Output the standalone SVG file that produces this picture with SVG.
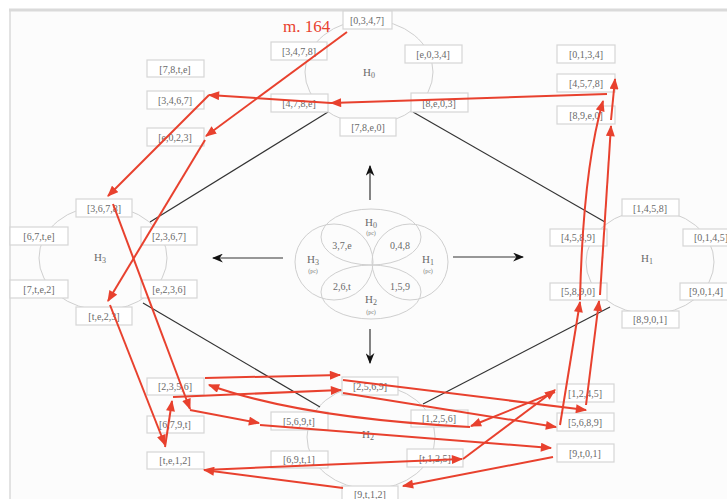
<svg xmlns="http://www.w3.org/2000/svg" width="727" height="499" viewBox="0 0 727 499">
<defs>
<style>
.bx rect{fill:#fff;stroke:#d6d6d6;stroke-width:1.2}
.bx text,.t{font-family:"Liberation Serif",serif;font-size:10px;fill:#6a6a6a;text-anchor:middle;dominant-baseline:central}
.hl{font-family:"Liberation Serif",serif;font-size:11px;fill:#6a6a6a;text-anchor:middle;dominant-baseline:central}
.pc{font-family:"Liberation Serif",serif;font-size:6px;fill:#777;text-anchor:middle;dominant-baseline:central}
.ring{fill:none;stroke:#cfcfcf;stroke-width:1}
.blk{fill:none;stroke:#333;stroke-width:1.2}
.red path{fill:none;stroke:#e8412e;stroke-width:2;marker-end:url(#ar)}
</style>
<marker id="ar" viewBox="0 0 10 8" refX="9" refY="4" markerWidth="12" markerHeight="9" orient="auto" markerUnits="userSpaceOnUse"><path d="M0,0 L10,4 L0,8 z" fill="#e8412e"/></marker>
<marker id="ab" viewBox="0 0 10 8" refX="9" refY="4" markerWidth="11" markerHeight="9" orient="auto" markerUnits="userSpaceOnUse"><path d="M0,0 L10,4 L0,8 L3,4 z" fill="#111"/></marker>
</defs>
<rect x="0" y="0" width="727" height="499" fill="#fff"/>
<rect x="10" y="10" width="717" height="489" fill="#fcfcfc"/>
<line x1="9" y1="10" x2="727" y2="10" stroke="#dadada" stroke-width="3"/>
<line x1="10" y1="10" x2="10" y2="499" stroke="#dadada" stroke-width="1.5"/>

<g id="rings">
<ellipse class="ring" cx="369" cy="72" rx="64" ry="52"/>
<ellipse class="ring" cx="103" cy="258" rx="64" ry="52"/>
<ellipse class="ring" cx="650" cy="262" rx="64" ry="52"/>
<ellipse class="ring" cx="371" cy="437" rx="64" ry="52"/>
</g>

<g id="connectors">
<g id="black">
<line class="blk" x1="328" y1="112" x2="150" y2="222"/>
<line class="blk" x1="413" y1="112" x2="605" y2="222"/>
<line class="blk" x1="143" y1="303" x2="320" y2="407"/>
<line class="blk" x1="610" y1="307" x2="423" y2="404"/>
<line class="blk" x1="370" y1="200" x2="370" y2="166" marker-end="url(#ab)"/>
<line class="blk" x1="283" y1="258" x2="213" y2="258" marker-end="url(#ab)"/>
<line class="blk" x1="453" y1="257" x2="523" y2="257" marker-end="url(#ab)"/>
<line class="blk" x1="370" y1="329" x2="370" y2="363" marker-end="url(#ab)"/>
</g>
</g>

<g id="center">
<ellipse class="ring" cx="371" cy="237" rx="50" ry="28"/>
<ellipse class="ring" cx="371" cy="292" rx="50" ry="27"/>
<ellipse class="ring" cx="334" cy="262" rx="39" ry="38"/>
<ellipse class="ring" cx="410" cy="262" rx="38" ry="38"/>
<text class="hl" x="371" y="222">H<tspan font-size="8" dy="3">0</tspan></text>
<text class="pc" x="371" y="233">(pc)</text>
<text class="hl" x="313" y="259">H<tspan font-size="8" dy="3">3</tspan></text>
<text class="pc" x="313" y="271">(pc)</text>
<text class="hl" x="428" y="259">H<tspan font-size="8" dy="3">1</tspan></text>
<text class="pc" x="428" y="271">(pc)</text>
<text class="hl" x="371" y="299">H<tspan font-size="8" dy="3">2</tspan></text>
<text class="pc" x="371" y="312">(pc)</text>
<text class="t" x="342" y="245">3,7,e</text>
<text class="t" x="400" y="245">0,4,8</text>
<text class="t" x="342" y="286">2,6,t</text>
<text class="t" x="400" y="286">1,5,9</text>
</g>

<text class="hl" x="369" y="72">H<tspan font-size="8" dy="3">0</tspan></text>
<text class="hl" x="100" y="257">H<tspan font-size="8" dy="3">3</tspan></text>
<text class="hl" x="647" y="258">H<tspan font-size="8" dy="3">1</tspan></text>
<text class="hl" x="368" y="434">H<tspan font-size="8" dy="3">2</tspan></text>

<g id="n0347" class="bx"><rect x="343" y="11" width="49" height="18"/><text x="367" y="20">[0,3,4,7]</text></g>
<g id="n3478" class="bx"><rect x="271" y="42" width="56" height="18"/><text x="299" y="51">[3,4,7,8]</text></g>
<g id="ne034" class="bx"><rect x="405" y="45" width="57" height="18"/><text x="433" y="54">[e,0,3,4]</text></g>
<g id="n478e" class="bx"><rect x="271" y="94" width="57" height="18"/><text x="299" y="103">[4,7,8,e]</text></g>
<g id="n8e03" class="bx"><rect x="411" y="93" width="57" height="19"/><text x="439" y="103">[8,e,0,3]</text></g>
<g id="n78e0" class="bx"><rect x="340" y="118" width="56" height="18"/><text x="368" y="127">[7,8,e,0]</text></g>

<g id="n78te" class="bx"><rect x="147" y="60" width="57" height="17"/><text x="175" y="69">[7,8,t,e]</text></g>
<g id="n3467" class="bx"><rect x="147" y="91" width="57" height="18"/><text x="175" y="100">[3,4,6,7]</text></g>
<g id="ne023" class="bx"><rect x="147" y="128" width="57" height="18"/><text x="175" y="137">[e,0,2,3]</text></g>

<g id="n0134" class="bx"><rect x="557" y="45" width="58" height="18"/><text x="586" y="54">[0,1,3,4]</text></g>
<g id="n4578" class="bx"><rect x="557" y="74" width="58" height="18"/><text x="586" y="83">[4,5,7,8]</text></g>
<g id="n89e0" class="bx"><rect x="557" y="106" width="58" height="18"/><text x="586" y="115">[8,9,e,0]</text></g>

<g id="n3678" class="bx"><rect x="76" y="199" width="56" height="18"/><text x="104" y="208">[3,6,7,8]</text></g>
<g id="n67te" class="bx"><rect x="10" y="227" width="58" height="18"/><text x="39" y="236">[6,7,t,e]</text></g>
<g id="n2367" class="bx"><rect x="141" y="227" width="56" height="18"/><text x="169" y="236">[2,3,6,7]</text></g>
<g id="n7te2" class="bx"><rect x="10" y="280" width="58" height="18"/><text x="39" y="289">[7,t,e,2]</text></g>
<g id="ne236" class="bx"><rect x="141" y="280" width="56" height="18"/><text x="169" y="289">[e,2,3,6]</text></g>
<g id="nte23" class="bx"><rect x="76" y="307" width="56" height="18"/><text x="104" y="316">[t,e,2,3]</text></g>

<g id="n1458" class="bx"><rect x="622" y="199" width="57" height="17"/><text x="650" y="208">[1,4,5,8]</text></g>
<g id="n4589" class="bx"><rect x="550" y="229" width="57" height="17"/><text x="578" y="237">[4,5,8,9]</text></g>
<g id="n0145" class="bx"><rect x="683" y="229" width="57" height="17"/><text x="711" y="237">[0,1,4,5]</text></g>
<g id="n5890" class="bx"><rect x="550" y="283" width="57" height="17"/><text x="578" y="291">[5,8,9,0]</text></g>
<g id="n9014" class="bx"><rect x="680" y="283" width="56" height="17"/><text x="706" y="291">[9,0,1,4]</text></g>
<g id="n8901" class="bx"><rect x="622" y="311" width="57" height="17"/><text x="650" y="319">[8,9,0,1]</text></g>

<g id="n2569" class="bx"><rect x="342" y="377" width="56" height="18"/><text x="370" y="386">[2,5,6,9]</text></g>
<g id="n1256" class="bx"><rect x="411" y="410" width="57" height="17"/><text x="439" y="418">[1,2,5,6]</text></g>
<g id="n569t" class="bx"><rect x="271" y="412" width="57" height="18"/><text x="299" y="421">[5,6,9,t]</text></g>
<g id="nt125" class="bx"><rect x="407" y="449" width="56" height="18"/><text x="435" y="458">[t,1,2,5]</text></g>
<g id="n69t1" class="bx"><rect x="271" y="451" width="57" height="17"/><text x="299" y="459">[6,9,t,1]</text></g>
<g id="n9t12" class="bx"><rect x="342" y="486" width="56" height="18"/><text x="370" y="494">[9,t,1,2]</text></g>

<g id="n2356" class="bx"><rect x="147" y="378" width="57" height="17"/><text x="175" y="386">[2,3,5,6]</text></g>
<g id="n679t" class="bx"><rect x="147" y="416" width="57" height="17"/><text x="175" y="424">[6,7,9,t]</text></g>
<g id="nte12" class="bx"><rect x="147" y="452" width="57" height="17"/><text x="175" y="460">[t,e,1,2]</text></g>

<g id="n1245" class="bx"><rect x="557" y="384" width="57" height="18"/><text x="585" y="393">[1,2,4,5]</text></g>
<g id="n5689" class="bx"><rect x="557" y="413" width="57" height="18"/><text x="585" y="422">[5,6,8,9]</text></g>
<g id="n9t01" class="bx"><rect x="557" y="444" width="57" height="18"/><text x="585" y="453">[9,t,0,1]</text></g>

<text x="283" y="32" font-family="Liberation Serif, serif" font-size="17" fill="#e8412e">m. 164</text>

<g id="red-connectors" class="red">
<path d="M347,32 L206,136"/>
<path d="M607,94 L331,103"/>
<path d="M331,103 L209,95"/>
<path d="M209,95 L108,196"/>
<path d="M205,140 L108,301"/>
<path d="M113,204 L190,409"/>
<path d="M190,410 L259,423"/>
<path d="M260,425 L551,448"/>
<path d="M553,457 L403,486"/>
<path d="M343,488 L204,470"/>
<path d="M204,470 L462,459"/>
<path d="M463,459 L555,390"/>
<path d="M555,392 L471,426"/>
<path d="M470,427 Q300,418 209,385"/>
<path d="M205,378 L340,375"/>
<path d="M110,305 L165,445"/>
<path d="M165,447 L172,401"/>
<path d="M173,397 L341,390"/>
<path d="M343,380 L586,410"/>
<path d="M343,393 L556,427"/>
<path d="M560,425 L580,302"/>
<path d="M580,300 Q583,170 603,101"/>
<path d="M586,405 L599,301"/>
<path d="M600,295 L611,126"/>
<path d="M611,120 L615,79"/>
</g>
</svg>
